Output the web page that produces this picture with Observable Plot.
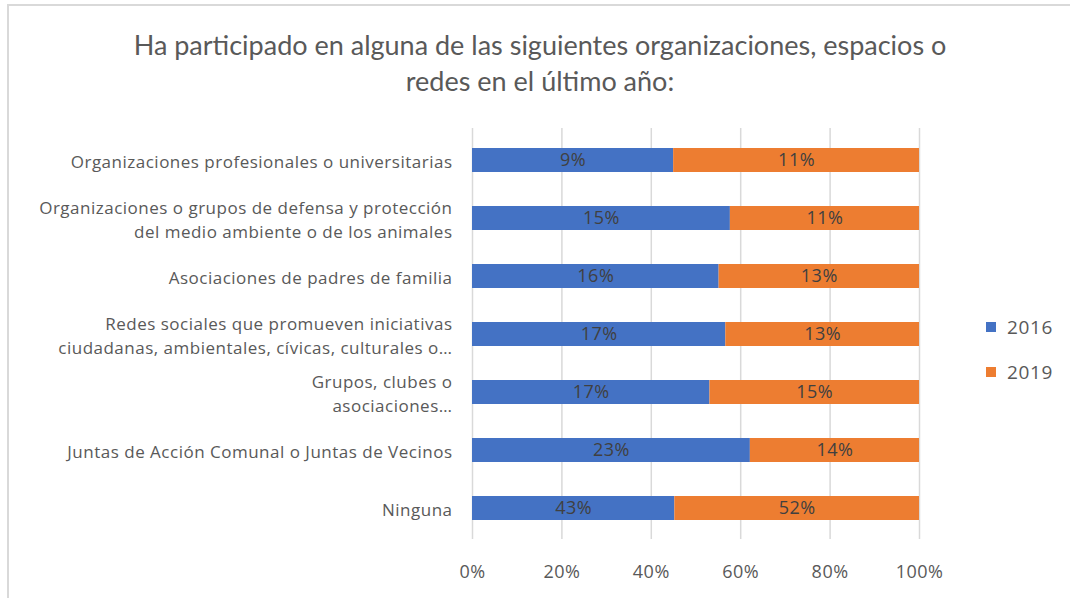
<!DOCTYPE html>
<html><head><meta charset="utf-8">
<script src="https://cdn.jsdelivr.net/npm/d3@7"></script>
<script src="https://cdn.jsdelivr.net/npm/@observablehq/plot@0.6"></script>
<style>
body{margin:0;background:#fff;}
#wrap{position:relative;width:1070px;height:598px;overflow:hidden;background:#fff;}
#frame{position:absolute;left:7px;top:4px;right:-10px;bottom:-10px;border-top:2px solid #d9d9d9;border-left:2px solid #d9d9d9;}
#title{position:absolute;left:0;top:27px;width:1080px;text-align:center;font-family:Lato,sans-serif;font-size:27px;line-height:36px;color:#595959;}
#chart{position:absolute;left:0;top:110px;}
#chart svg text{letter-spacing:0.5px;}
#legend{position:absolute;left:986px;top:313px;font-family:"Open Sans",sans-serif;font-size:19px;letter-spacing:0.6px;color:#595959;}
.item{display:flex;align-items:center;height:28px;margin-bottom:17px;}
.sw{width:10px;height:10px;margin-right:11px;}
</style>
</head><body>
<div id="wrap">
<div id="frame"></div>
<div id="title">Ha participado en alguna de las siguientes organizaciones, espacios o<br>redes en el último año:</div>
<div id="chart"></div>
<div id="legend"></div>
</div>
<script>
const categories = [
  "Organizaciones profesionales o universitarias",
  "Organizaciones o grupos de defensa y protección\ndel medio ambiente o de los animales",
  "Asociaciones de padres de familia",
  "Redes sociales que promueven iniciativas\nciudadanas, ambientales, cívicas, culturales o…",
  "Grupos, clubes o\nasociaciones…",
  "Juntas de Acción Comunal o Juntas de Vecinos",
  "Ninguna"
];
const years = ["2016", "2019"];
const values2016 = [9, 15, 16, 17, 17, 23, 43];
const values2019 = [11, 11, 13, 13, 15, 14, 52];
const colors = ["#4472C4", "#ED7D31"];
const xTicks = [0, 0.2, 0.4, 0.6, 0.8, 1];

const data = categories.flatMap((c, i) => [
  {cat: c, year: years[0], value: values2016[i]},
  {cat: c, year: years[1], value: values2019[i]}
]);

const plot = Plot.plot({
  width: 1070, height: 479,
  marginTop: 18, marginBottom: 50, marginLeft: 472, marginRight: 151,
  style: {fontFamily: "'Open Sans', sans-serif", background: "transparent", color: "#595959"},
  x: {domain: [0, 1], label: null},
  y: {domain: categories, paddingInner: 0.59, paddingOuter: 0.3, label: null},
  color: {domain: years, range: colors},
  marks: [
    Plot.gridX(xTicks, {stroke: "#d9d9d9", strokeOpacity: 1, strokeWidth: 1.5}),
    Plot.barX(data, Plot.stackX({x: "value", y: "cat", fill: "year", offset: "normalize"})),
    Plot.text(data, Plot.stackX({x: "value", y: "cat", z: "year", offset: "normalize",
      text: d => d.value + "%", fill: "#404040", fontSize: 18})),
    Plot.axisX({ticks: xTicks, tickFormat: d3.format(".0%"), tickSize: 0, tickPadding: 26,
      fontSize: 18, color: "#595959", label: null}),
    Plot.axisY({tickSize: 0, tickPadding: 20, fontSize: 17, lineHeight: 1.38,
      color: "#595959", label: null})
  ]
});
document.getElementById("chart").appendChild(plot);

const color = plot.scale("color");
const legend = document.getElementById("legend");
years.forEach((y, i) => {
  const item = document.createElement("div");
  item.className = "item";
  const sw = document.createElement("span");
  sw.className = "sw";
  sw.style.background = color.range[i];
  const t = document.createElement("span");
  t.textContent = y;
  item.appendChild(sw); item.appendChild(t);
  legend.appendChild(item);
});
</script>
</body></html>
